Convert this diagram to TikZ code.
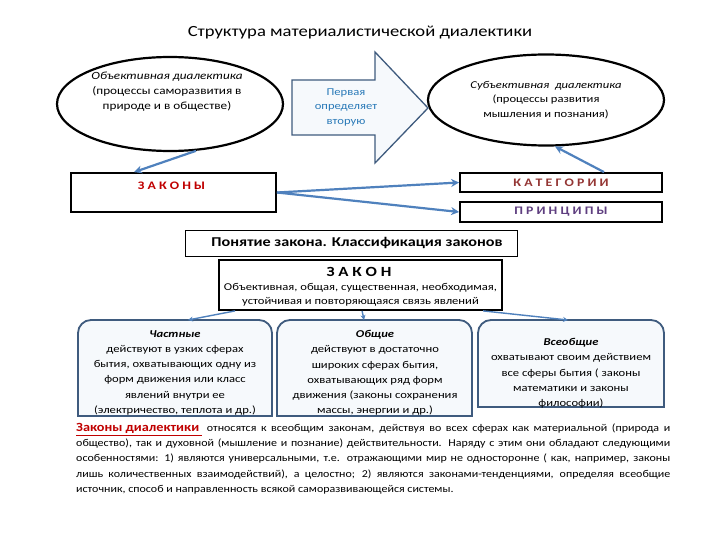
\documentclass[tikz,border=0pt]{standalone}
\usepackage{fontspec}
\setmainfont{Carlito}[FakeStretch=1.2]
\newfontfamily\plainfont{Carlito}
\newfontfamily\parafont{Carlito}[FakeStretch=1.14]
\usetikzlibrary{arrows.meta,shapes.geometric,calc}
\definecolor{conn}{HTML}{4F81BD}
\definecolor{frame}{HTML}{3F5B7E}
\definecolor{boxfill}{HTML}{F6F9FC}
\definecolor{txtblue}{HTML}{2A7AB8}
\definecolor{zred}{HTML}{C00000}
\definecolor{kbrown}{HTML}{943634}
\definecolor{ppurple}{HTML}{5F3F80}
\newcommand\jline[1]{\hbox to 594pt{#1}}
\begin{document}
\begin{tikzpicture}[x=1pt,y=-1pt,
  ell/.style={ellipse,draw=black,line width=2.2pt,fill=white,inner sep=0pt},
  conarrow/.style={draw=conn,line width=2.2pt,-{Stealth[length=8pt,width=8pt]}},
  thinarrow/.style={draw=conn,line width=1.4pt,-{Stealth[length=5pt,width=5pt]}},
  blackbox/.style={draw=black,line width=1.8pt,inner sep=0pt},
  lowframe/.style={draw=frame,line width=1.8pt,fill=boxfill},
  small/.style={font=\fontsize{10.5}{14.5}\selectfont},
  lowtxt/.style={align=center,font=\fontsize{10.5}{15.3}\selectfont,inner sep=0pt}
]
\useasboundingbox (0,0) rectangle (720,540);
\fill[white] (0,0) rectangle (720,540);

% title
\node[font=\fontsize{15.5}{18}\selectfont] (title) at (360,33) {Структура материалистической диалектики};

% ellipses
\node[ell,minimum width=226pt,minimum height=94pt] (obj) at (170,104) {};
\node[font=\fontsize{11}{15}\selectfont,align=center,inner sep=0pt] (objtxt) at (167,92)
  {\textit{Объективная диалектика}\\(процессы саморазвития в\\природе и в обществе)};
\node[ell,minimum width=236pt,minimum height=91pt] (subj) at (546,100) {};
\node[small,align=center,inner sep=0pt] (subjtxt) at (546,100)
  {\textit{Субъективная\ \ диалектика}\\(процессы развития\\мышления и познания)};

% big arrow
\draw[draw=frame,line width=1.3pt,fill=boxfill]
  (292,80) -- (375,80) -- (375,52) -- (428,108) -- (375,163) -- (375,135) -- (292,135) -- cycle;
\node[small,text=txtblue,align=center,inner sep=0pt] (first) at (346,107)
  {Первая\\определяет\\вторую};

% boxes
\node[blackbox,minimum width=205pt,minimum height=39pt] (zak) at (173.5,192.5) {};
\node[text=zred,font=\fontsize{11.5}{14}\selectfont\bfseries,inner sep=0pt] (zaktxt) at ($(zak.north)+(-2,14)$) {З А К О Н Ы};
\node[blackbox,minimum width=202pt,minimum height=19pt,text=kbrown,font=\fontsize{11.5}{12}\selectfont\bfseries] (kat) at (561,182.5) {К А Т Е Г О Р И И};
\node[blackbox,minimum width=202pt,minimum height=20pt,text=ppurple,font=\fontsize{11.5}{12}\selectfont\bfseries] (pr) at (561,212) {П Р И Н Ц И П Ы};

% arrows upper
\draw[conarrow] (obj.-61) -- ($(zak.north west)+(64,0)$);
\draw[conarrow] (zak.east) -- (kat.west);
\draw[conarrow] (zak.east) -- (pr.west);
\draw[conarrow] ($(kat.north)+(43,0)$) -- (subj.-79);

% concept box
\node[draw=black,line width=0.9pt,minimum width=332pt,minimum height=26pt,inner sep=0pt,
  font=\fontsize{13.5}{15}\selectfont\bfseries] (concept) at (351,243) {\hspace*{12pt}Понятие закона. Классификация законов};

% ZAKON box
\node[blackbox,minimum width=283pt,minimum height=50pt] (zakon) at (360.5,285) {};
\node[inner sep=0pt,font=\fontsize{14}{15}\selectfont\bfseries] (zakonh) at (359,272) {З А К О Н};
\node[inner sep=0pt,align=center,font=\fontsize{10.5}{14}\selectfont] (zakondef) at (360.5,294.5)
  {Объективная, общая, существенная, необходимая,\\устойчивая и повторяющаяся связь явлений};

% lower boxes
\def\rr{13}
\draw[lowframe] (78,416) -- (78,320+\rr) arc[start angle=180,end angle=270,radius=\rr] -- (272-\rr,320)
  arc[start angle=270,end angle=360,radius=\rr] -- (272,416) -- cycle;
\draw[lowframe] (277,416) -- (277,320+\rr) arc[start angle=180,end angle=270,radius=\rr] -- (472-\rr,320)
  arc[start angle=270,end angle=360,radius=\rr] -- (472,416) -- cycle;
\draw[lowframe] (478,407) -- (478,320+\rr) arc[start angle=180,end angle=270,radius=\rr] -- (664-\rr,320)
  arc[start angle=270,end angle=360,radius=\rr] -- (664,407) -- cycle;
\coordinate (ltop) at (188,320);
\coordinate (mtop) at (364,320);
\coordinate (rtop) at (568,320);

\node[lowtxt,anchor=north] (part) at (175,330)
  {\textbf{\textit{Частные}}\\действуют в узких сферах\\бытия, охватывающих одну из\\форм движения или класс\\явлений внутри ее\\(электричество, теплота и др.)};
\node[lowtxt,anchor=north] (gen) at (375,330)
  {\textbf{\textit{Общие}}\\действуют в достаточно\\широких сферах бытия,\\охватывающих ряд форм\\движения (законы сохранения\\массы, энергии и др.)};
\node[lowtxt,anchor=north] (univ) at (571,338)
  {\textbf{\textit{Всеобщие}}\\охватывают своим действием\\все сферы бытия ( законы\\математики и законы\\философии)};

\draw[thinarrow] ($(zakon.south west)+(17,0)$) -- (ltop);
\draw[thinarrow] ($(zakon.south west)+(144,0)$) -- (mtop);
\draw[thinarrow] ($(zakon.south west)+(265,0)$) -- (rtop);

% paragraph
\node[anchor=north west,inner sep=0pt] (para) at (76,423)
  {\vbox{\hsize=594pt\parafont\fontsize{10.5}{15.3}\selectfont
  \jline{{\color{zred}\fontsize{12.5}{15}\selectfont\bfseries\underline{Законы диалектики\ }} относятся к всеобщим законам, действуя во всех сферах как материальной (природа и}
  \jline{общество), так и духовной (мышление и познание) действительности. Наряду с этим они обладают следующими}
  \jline{особенностями: 1) являются универсальными, т.е. отражающими мир не односторонне ( как, например, законы}
  \jline{лишь количественных взаимодействий), а целостно; 2) являются законами-тенденциями, определяя всеобщие}
  \hbox{источник, способ и направленность всякой саморазвивающейся системы.}}};
\end{tikzpicture}
\end{document}
